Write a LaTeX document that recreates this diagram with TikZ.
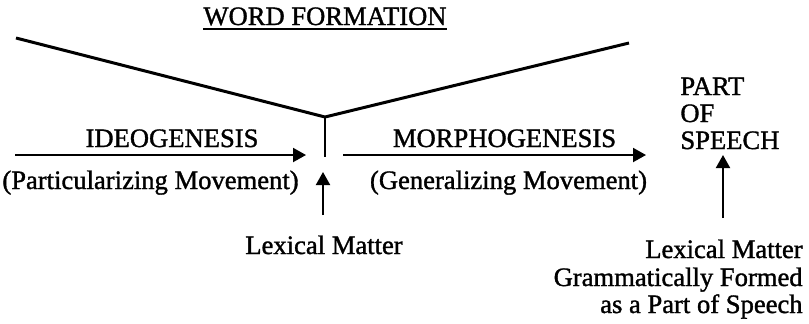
\documentclass[tikz,border=0pt]{standalone}
\usepackage{fontspec}
\setmainfont{Liberation Serif}
\newfontfamily\inkfont{Liberation Serif}[FakeBold=1.3]
\usetikzlibrary{arrows.meta}
\begin{document}
\begin{tikzpicture}[x=0.5pt,y=-0.5pt,
  txt/.style={inner sep=0pt,font=\inkfont\fontsize{13.3pt}{13.5pt}\selectfont},
  vline/.style={line width=1.5pt,line join=miter},
  arr/.style={line width=1pt,-{Triangle[length=6.5pt,width=7pt]}}]
\useasboundingbox (0,0) rectangle (809,323);
% title
\node[txt,anchor=base] (title) at (325,25) {WORD FORMATION};
\draw[line width=1.1pt] ([yshift=-2pt]title.base west) -- ([yshift=-2pt]title.base east);
% V shape
\coordinate (vl) at (16,38);
\coordinate (vx) at (325,117);
\coordinate (vr) at (629,43);
\coordinate (vb) at (325,157);
\draw[vline] (vl) -- (vx) -- (vr);
\draw[line width=1pt] (vx) -- (vb);
% ideogenesis
\node[txt,anchor=base] (ideo) at (172,147) {IDEOGENESIS};
\coordinate (ideoS) at (15,155);
\coordinate (ideoE) at (306,155);
\draw[arr] (ideoS) -- (ideoE);
\node[txt,anchor=base west] (part) at (2,189) {(Particularizing Movement)};
% morphogenesis
\node[txt,anchor=base] (morph) at (504.5,147) {MORPHOGENESIS};
\coordinate (morS) at (343,155);
\coordinate (morE) at (646,155);
\draw[arr] (morS) -- (morE);
\node[txt,anchor=base] (gen) at (508.5,189) {(Generalizing Movement)};
% lexical matter
\node[txt,anchor=base] (lex) at (324,254) {Lexical Matter};
\coordinate (lexT) at (323,215);
\coordinate (lexH) at (323,172);
\draw[arr] (lexT) -- (lexH);
% part of speech
\node[txt,anchor=base west] (pos1) at (680,95) {PART};
\node[txt,anchor=base west] (pos2) at (680,122) {OF};
\node[txt,anchor=base west] (pos3) at (680,149) {SPEECH};
% right block
\node[txt,anchor=base east] (r1) at (803,258) {Lexical Matter};
\node[txt,anchor=base east] (r2) at (803,286) {Grammatically Formed};
\node[txt,anchor=base east] (r3) at (803,313) {as a Part of Speech};
\coordinate (rT) at (723,218);
\coordinate (rH) at (723,155);
\draw[arr] (rT) -- (rH);
\end{tikzpicture}
\end{document}
